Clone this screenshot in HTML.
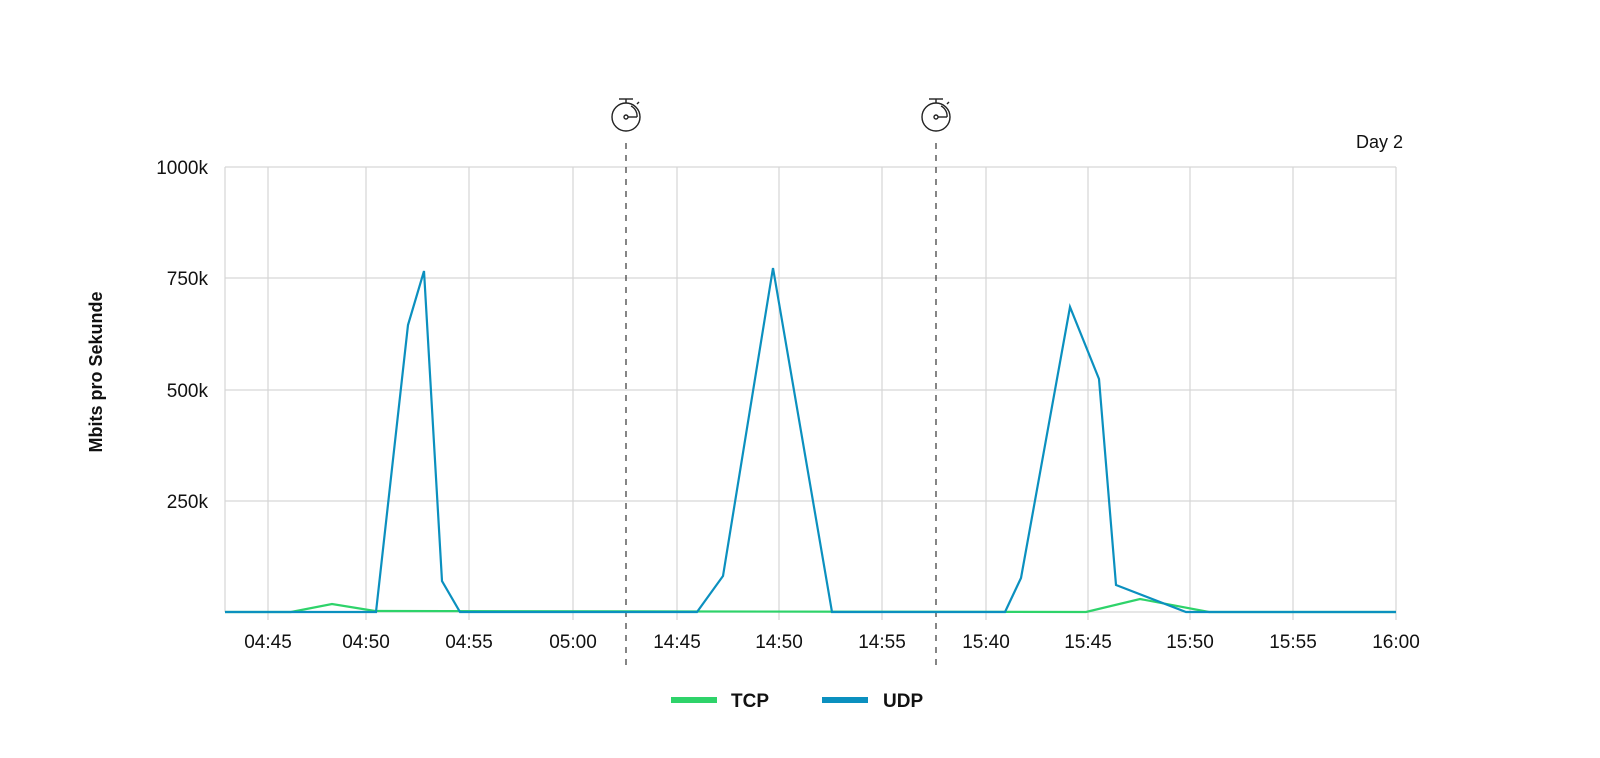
<!DOCTYPE html>
<html><head><meta charset="utf-8"><style>
html,body{margin:0;padding:0;background:#fff;}
svg{display:block;font-family:"Liberation Sans",sans-serif;}
</style></head><body>
<svg width="1600" height="758" viewBox="0 0 1600 758" xmlns="http://www.w3.org/2000/svg">
<g stroke="#d6d6d6" stroke-width="1.2" fill="none">
<line x1="225" y1="167" x2="1396" y2="167"/>
<line x1="225" y1="278" x2="1396" y2="278"/>
<line x1="225" y1="390" x2="1396" y2="390"/>
<line x1="225" y1="501" x2="1396" y2="501"/>
<line x1="225" y1="612" x2="1396" y2="612"/>
<line x1="225" y1="167" x2="225" y2="612"/>
<line x1="268" y1="167" x2="268" y2="620"/>
<line x1="366" y1="167" x2="366" y2="620"/>
<line x1="469" y1="167" x2="469" y2="620"/>
<line x1="573" y1="167" x2="573" y2="620"/>
<line x1="677" y1="167" x2="677" y2="620"/>
<line x1="779" y1="167" x2="779" y2="620"/>
<line x1="882" y1="167" x2="882" y2="620"/>
<line x1="986" y1="167" x2="986" y2="620"/>
<line x1="1088" y1="167" x2="1088" y2="620"/>
<line x1="1190" y1="167" x2="1190" y2="620"/>
<line x1="1293" y1="167" x2="1293" y2="620"/>
<line x1="1396" y1="167" x2="1396" y2="620"/>
</g>
<g stroke="#444" stroke-width="1.3" stroke-dasharray="6,6">
<line x1="626" y1="143" x2="626" y2="665"/>
<line x1="936" y1="143" x2="936" y2="665"/>
</g>
<g fill="none" stroke="#222" stroke-width="1.4">
<circle cx="626" cy="117" r="14"/><line x1="619" y1="99" x2="633" y2="99"/><line x1="626" y1="99" x2="626" y2="103"/>
<path d="M631 106 A11 11 0 0 1 637 117"/><line x1="628" y1="117" x2="637" y2="117"/><circle cx="626" cy="117" r="2"/><line x1="637" y1="104" x2="639" y2="102"/>
<circle cx="936" cy="117" r="14"/><line x1="929" y1="99" x2="943" y2="99"/><line x1="936" y1="99" x2="936" y2="103"/>
<path d="M941 106 A11 11 0 0 1 947 117"/><line x1="938" y1="117" x2="947" y2="117"/><circle cx="936" cy="117" r="2"/><line x1="947" y1="104" x2="949" y2="102"/>
</g>
<polyline fill="none" stroke="#2ed36a" stroke-width="2.2" points="225,612 291,612 332,604 375,611 1086,612 1140,599 1209,612 1396,612"/>
<polyline fill="none" stroke="#0b90bf" stroke-width="2.2" stroke-linejoin="miter" points="225,612 376,612 408,325 424,271 442,581 460,612 697,612 723,576 773,268 832,612 1005,612 1021,578 1070,307 1099,379 1116,585 1186,612 1396,612"/>
<g font-size="19" fill="#111" text-anchor="end">
<text x="208" y="174">1000k</text>
<text x="208" y="285">750k</text>
<text x="208" y="397">500k</text>
<text x="208" y="508">250k</text>
</g>
<g font-size="19" fill="#111" text-anchor="middle">
<text x="268" y="648">04:45</text>
<text x="366" y="648">04:50</text>
<text x="469" y="648">04:55</text>
<text x="573" y="648">05:00</text>
<text x="677" y="648">14:45</text>
<text x="779" y="648">14:50</text>
<text x="882" y="648">14:55</text>
<text x="986" y="648">15:40</text>
<text x="1088" y="648">15:45</text>
<text x="1190" y="648">15:50</text>
<text x="1293" y="648">15:55</text>
<text x="1396" y="648">16:00</text>
</g>
<text x="1403" y="148" font-size="18" text-anchor="end" fill="#111">Day 2</text>
<text transform="translate(102,372) rotate(-90)" font-size="18" font-weight="bold" text-anchor="middle" fill="#111">Mbits pro Sekunde</text>
<rect x="671" y="697" width="46" height="6" fill="#2ed36a"/>
<text x="731" y="707" font-size="19" font-weight="bold" fill="#111">TCP</text>
<rect x="822" y="697" width="46" height="6" fill="#0b90bf"/>
<text x="883" y="707" font-size="19" font-weight="bold" fill="#111">UDP</text>
</svg>
</body></html>
